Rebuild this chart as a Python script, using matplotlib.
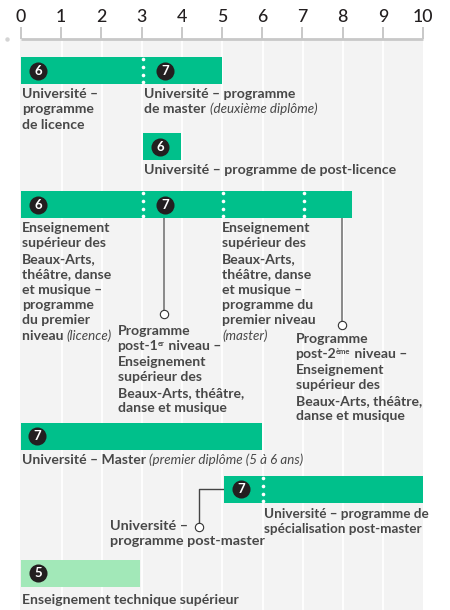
import matplotlib
matplotlib.use('Agg')
import matplotlib.pyplot as plt

plt.rcParams['font.family'] = ['Lato', 'DejaVu Sans']

# years of study axis
ticks = list(range(0, 11))

# bars: start, end (years), colour key
bar_start = [0, 3.03, 0, 0, 5.05, 0]
bar_end = [5, 3.98, 8.23, 6, 10, 2.96]
bar_kind = ['main', 'main', 'main', 'main', 'main', 'light']
bar_dots = [[3], [], [3, 5, 7], [], [6], []]

# level badges: x in years, row of the bar, level
badge_x = [0.42, 3.58, 3.47, 0.42, 3.58, 0.40, 5.47, 0.42]
badge_row = [0, 0, 1, 2, 2, 3, 4, 5]
badge_level = ['6', '7', '6', '6', '7', '7', '7', '5']

# bars are placed by their top pixel, they are all the same height
row_top = [57, 133, 191, 423, 476, 560]
row_h = 27
badge_y = {0: 71, 1: 147, 2: 205, 3: 436, 4: 489, 5: 573}

GREEN = '#00c08b'
LIGHT = '#a2e8b8'
TXT = '#484848'
DARK = '#231f20'

fig = plt.figure(figsize=(4.5, 6.1), dpi=100)
ax = fig.add_axes([0, 0, 1, 1])
ppu = 40.2
ax.set_xlim(-21 / ppu, (450 - 21) / ppu)
ax.set_ylim(610, 0)
ax.axis('off')

# grey columns with white lines
ax.axvspan(-0.03, 10, ymin=0, ymax=1 - 39 / 610, color='#f3f3f3', lw=0, zorder=0)
for t in ticks[1:-1]:
    ax.plot([t + 0.01, t + 0.01], [39, 610], color='white', lw=1.3, zorder=1)

# scale on top
ax.plot([0, 10], [39, 39], color='#c8c8c8', lw=2, zorder=2, solid_capstyle='butt')
for t in ticks:
    ax.plot([t, t], [27, 39], color='#c8c8c8', lw=1.4, zorder=2, solid_capstyle='butt')
    ax.text(t, 17, str(t), ha='center', va='center', fontsize=12.8, fontweight='medium', color=DARK)
ax.plot([-0.36], [39], 'o', color='#d4d4d4', ms=3.2, mew=0)

for i in range(len(bar_start)):
    y = row_top[i]
    ax.barh(y + row_h / 2, bar_end[i] - bar_start[i], left=bar_start[i], height=row_h,
            color=GREEN if bar_kind[i] == 'main' else LIGHT, lw=0, zorder=3)
    for d in bar_dots[i]:
        ax.plot([d + 0.03] * 4, [y + 1.5, y + 9.5, y + 17.5, y + 25], 'o', color='white', ms=2.6, mew=0, zorder=4)

for x, r, lev in zip(badge_x, badge_row, badge_level):
    ax.plot([x], [badge_y[r]], 'o', color=DARK, ms=13, mew=0, zorder=5)
    ax.text(x, badge_y[r] + 0.2, lev, color='white', ha='center', va='center',
            fontsize=9.5, fontweight='bold', zorder=6)


def px(p):
    return (p - 21) / ppu


# connectors
ax.plot([px(164), px(164)], [218, 313], color='#808080', lw=1.3, zorder=2)
ax.plot([px(342), px(342)], [218, 325], color='#808080', lw=1.3, zorder=2)
ax.plot([px(224), px(198.5), px(198.5)], [489, 489, 527], color='#444444', lw=1, zorder=2)
for cx, cy in [(164, 313.5), (342, 325), (198.5, 527)]:
    ax.plot([px(cx)], [cy], 'o', mfc='white', mec='#333333', ms=6, mew=0.8, zorder=4)

renderer = fig.canvas.get_renderer()


def line(x, y, runs, fs):
    # one text line made of runs, each (text, style), style b / i / sup
    cur = x
    for s, st in runs:
        kw = {'fontweight': 'bold', 'fontsize': fs}
        base = y
        if st == 'i':
            kw = {'fontstyle': 'italic', 'fontsize': 9.6}
        if st == 'sup':
            kw = {'fontweight': 'bold', 'fontsize': 5.5}
            base = y - 4.5
        t = ax.text(px(cur), base, s, color=TXT, va='baseline', ha='left', zorder=7, **kw)
        cur += t.get_window_extent(renderer).width


def block(x, y, rows, dy=15.4, fs=10.1):
    for i, r in enumerate(rows):
        if isinstance(r, str):
            r = [(r, 'b')]
        line(x, y + i * dy, r, fs)


block(22, 98, ['Université –', 'programme', 'de licence'])
block(144.5, 98, ['Université – programme', [('de master ', 'b'), ('(deuxième diplôme)', 'i')]])
block(143.5, 174, ['Université – programme de post-licence'], fs=10.2)
block(22, 232, ['Enseignement', 'supérieur des', 'Beaux-Arts,', 'théâtre, danse', 'et musique –',
                'programme', 'du premier', [('niveau ', 'b'), ('(licence)', 'i')]])
block(222, 232, ['Enseignement', 'supérieur des', 'Beaux-Arts,', 'théâtre, danse', 'et musique –',
                 'programme du', 'premier niveau', [('(master)', 'i')]])
block(117.5, 335, ['Programme', [('post-1', 'b'), ('er', 'sup'), (' niveau –', 'b')], 'Enseignement',
                   'supérieur des', 'Beaux-Arts, théâtre,', 'danse et musique'])
block(295.5, 343, ['Programme', [('post-2', 'b'), ('ème', 'sup'), (' niveau –', 'b')], 'Enseignement',
                   'supérieur des', 'Beaux-Arts, théâtre,', 'danse et musique'])
block(22, 464, [[('Université – Master ', 'b'), ('(premier diplôme (5 à 6 ans)', 'i')]])
block(263.5, 518, ['Université – programme de', 'spécialisation post-master'], fs=9.7)
block(110, 530, ['Université –', 'programme post-master'], fs=10.4)
block(22, 604, ['Enseignement technique supérieur'])

fig.savefig('out.png', dpi=100)
